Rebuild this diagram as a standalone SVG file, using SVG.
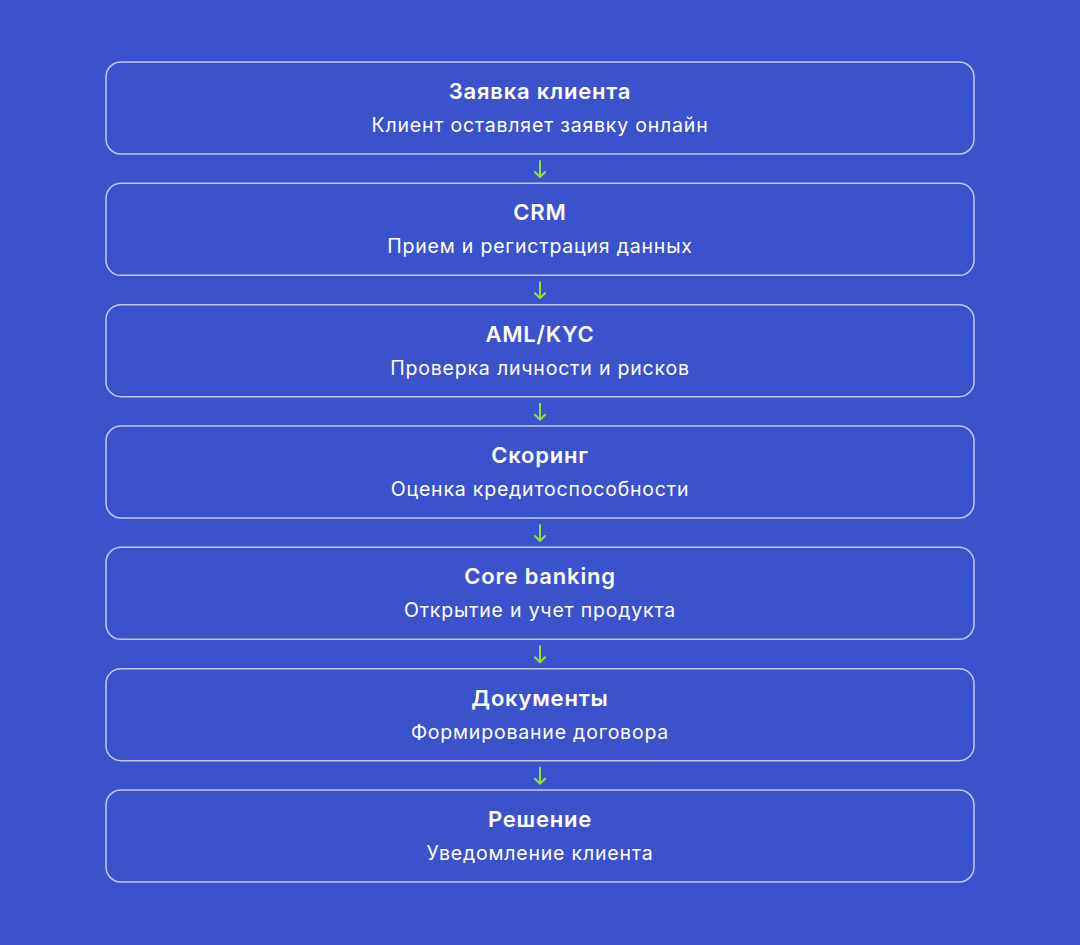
<svg xmlns="http://www.w3.org/2000/svg" width="1080" height="945" viewBox="0 0 1080 945">
<defs>
<style>
.box{fill:none;stroke:#c3cbf2;stroke-width:1.5}
.t{font-family:Inter,"Noto Sans",sans-serif;font-weight:600;font-size:22px;letter-spacing:0.8px;fill:#ffffff;text-anchor:middle}
.s{font-family:Inter,"Noto Sans",sans-serif;font-weight:400;font-size:19.5px;letter-spacing:0.8px;fill:#ffffff;text-anchor:middle}
.c{fill:none;stroke:#8ee03c;stroke-width:2;stroke-linecap:round;stroke-linejoin:round}
</style>
</defs>
<rect width="1080" height="945" fill="#3a53cd"/>
<g id="connectors">
<path class="c" d="M540 161V177M535 172L540 177L545 172"/>
<path class="c" d="M540 282.3V298.3M535 293.3L540 298.3L545 293.3"/>
<path class="c" d="M540 403.7V419.7M535 414.7L540 419.7L545 414.7"/>
<path class="c" d="M540 525V541M535 536L540 541L545 536"/>
<path class="c" d="M540 646.3V662.3M535 657.3L540 662.3L545 657.3"/>
<path class="c" d="M540 767.7V783.7M535 778.7L540 783.7L545 778.7"/>
</g>
<g id="n1"><rect class="box" x="106" y="62" width="868" height="92" rx="15"/><text class="t" x="540" y="99">Заявка клиента</text><text class="s" x="540" y="132">Клиент оставляет заявку онлайн</text></g>
<g id="n2"><rect class="box" x="106" y="183.3" width="868" height="92" rx="15"/><text class="t" x="540" y="220.3">CRM</text><text class="s" x="540" y="253.3">Прием и регистрация данных</text></g>
<g id="n3"><rect class="box" x="106" y="304.7" width="868" height="92" rx="15"/><text class="t" x="540" y="341.7">AML/KYC</text><text class="s" x="540" y="374.7">Проверка личности и рисков</text></g>
<g id="n4"><rect class="box" x="106" y="426" width="868" height="92" rx="15"/><text class="t" x="540" y="463">Скоринг</text><text class="s" x="540" y="496">Оценка кредитоспособности</text></g>
<g id="n5"><rect class="box" x="106" y="547.3" width="868" height="92" rx="15"/><text class="t" x="540" y="584.3">Core banking</text><text class="s" x="540" y="617.3">Открытие и учет продукта</text></g>
<g id="n6"><rect class="box" x="106" y="668.7" width="868" height="92" rx="15"/><text class="t" x="540" y="705.7">Документы</text><text class="s" x="540" y="738.7">Формирование договора</text></g>
<g id="n7"><rect class="box" x="106" y="790" width="868" height="92" rx="15"/><text class="t" x="540" y="827">Решение</text><text class="s" x="540" y="860">Уведомление клиента</text></g>
</svg>
